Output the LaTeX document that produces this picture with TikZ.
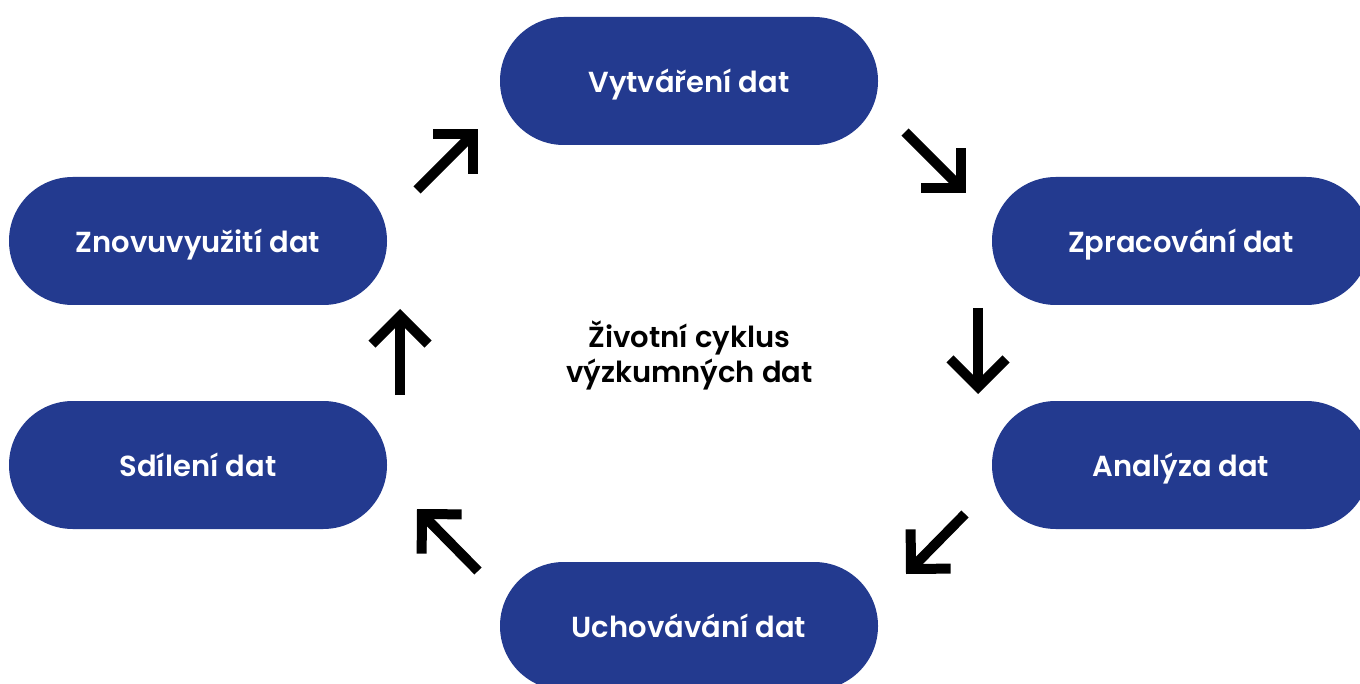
\documentclass[tikz,border=0pt]{standalone}
\usepackage{fontspec}
\setmainfont{Poppins}[BoldFont={* SemiBold}]
\usepackage{tikz}
\usetikzlibrary{arrows.meta, positioning}
\definecolor{cycleblue}{RGB}{35,58,143}
\tikzset{
  stage/.style={rectangle, rounded corners=31.9pt, fill=cycleblue,
                text=white, minimum width=189pt, minimum height=64pt,
                text height=13pt, text depth=1.5pt,
                font=\fontsize{14.5}{18}\selectfont\bfseries},
  centertext/.style={align=center, text=black,
                font=\fontsize{14.5}{17.5}\selectfont\bfseries},
  cyclearrow/.style={-{Straight Barb[length=14pt, width=28pt]},
                line width=5pt, draw=black},
}

\begin{document}
\begin{tikzpicture}[x=0.5pt, y=-0.5pt]
  \useasboundingbox (0,0) rectangle (1360,684);

  \node[stage] (create) at (689,81) {Vytváření dat};
  \node[stage] (proc) at (1181,241) {Zpracování dat};
  \node[stage] (anal) at (1181,465) {Analýza dat};
  \node[stage] (store) at (689,626) {Uchovávání dat};
  \node[stage] (share) at (198,465) {Sdílení dat};
  \node[stage] (reuse) at (198,241) {Znovuvyužití dat};

  \node[centertext] (title) at (689.5,355)
    {Životní cyklus\\výzkumných dat};

  % arrow ends
  \coordinate (a1s) at (417,190);
  \coordinate (a1e) at (478,129);
  \coordinate (a2s) at (905,132);
  \coordinate (a2e) at (966,193);
  \coordinate (a3s) at (978,308);
  \coordinate (a3e) at (978,394);
  \coordinate (a4s) at (965,514);
  \coordinate (a4e) at (906,574);
  \coordinate (a5s) at (478,571);
  \coordinate (a5e) at (417,509);
  \coordinate (a6s) at (400,395);
  \coordinate (a6e) at (400,309);

  \draw[cyclearrow] (a1s) -- (a1e);
  \draw[cyclearrow] (a2s) -- (a2e);
  \draw[cyclearrow] (a3s) -- (a3e);
  \draw[cyclearrow] (a4s) -- (a4e);
  \draw[cyclearrow] (a5s) -- (a5e);
  \draw[cyclearrow] (a6s) -- (a6e);
\end{tikzpicture}
\end{document}
